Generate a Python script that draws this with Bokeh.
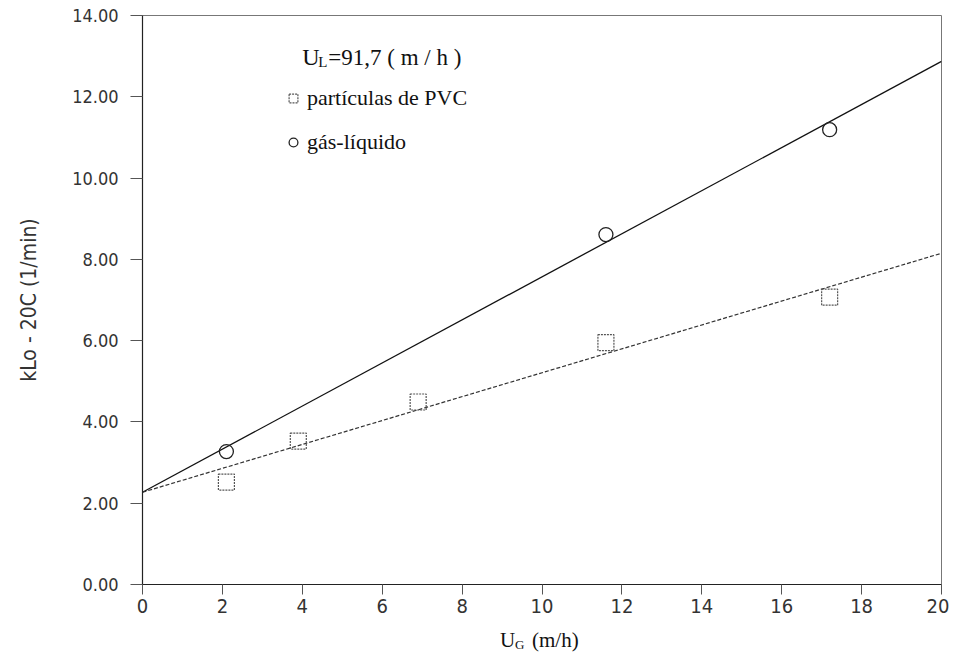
from bokeh.plotting import figure
from bokeh.layouts import column
from bokeh.models import Range1d, Label, Legend, LegendItem, FixedTicker, PrintfTickFormatter
from bokeh.embed import file_html
from bokeh.resources import INLINE

# data
ug_pvc = [2.1, 3.9, 6.9, 11.6, 17.2]
kla_pvc = [2.52, 3.53, 4.49, 5.95, 7.07]
ug_gl = [2.1, 11.6, 17.2]
kla_gl = [3.27, 8.61, 11.19]
fit_x = [0, 20]
fit_pvc = [2.27, 8.15]
fit_gl = [2.27, 12.87]
x_ticks = [0, 2, 4, 6, 8, 10, 12, 14, 16, 18, 20]
y_ticks = [0, 2, 4, 6, 8, 10, 12, 14]

NARROW = "'DejaVu Sans Condensed', 'Liberation Sans Narrow', 'Liberation Sans', sans-serif"
SERIF = "'Liberation Serif', 'Times New Roman', serif"

xr = Range1d(0, 20)
p = figure(width=949, height=624, output_backend="svg", toolbar_location=None,
           x_range=xr, y_range=Range1d(0, 14),
           min_border_left=142, min_border_right=8, min_border_top=15, min_border_bottom=40)
p.xgrid.visible = False
p.ygrid.visible = False
p.outline_line_color = "#777777"
p.outline_line_width = 1
p.background_fill_color = "white"
p.border_fill_color = "white"

p.xaxis.ticker = FixedTicker(ticks=x_ticks)
p.yaxis.ticker = FixedTicker(ticks=y_ticks)
p.yaxis.formatter = PrintfTickFormatter(format="%.2f")
for ax in (p.xaxis[0], p.yaxis[0]):
    ax.axis_line_color = "#222222"
    ax.axis_line_width = 1.2
    ax.major_tick_line_color = "#555555"
    ax.minor_tick_line_color = None
    ax.major_tick_in = 0
    ax.major_label_text_font = NARROW
    ax.major_label_text_color = "#333333"
p.xaxis.major_tick_out = 10
p.yaxis.major_tick_out = 12
p.xaxis.major_label_text_font_size = "20px"
p.yaxis.major_label_text_font_size = "18px"
p.xaxis.major_label_standoff = 4
p.yaxis.major_label_standoff = 12
p.yaxis.axis_label = "kLo - 20C (1/min)"
p.yaxis.axis_label_text_font = NARROW
p.yaxis.axis_label_text_font_size = "21px"
p.yaxis.axis_label_text_font_style = "normal"
p.yaxis.axis_label_text_color = "#333333"
p.yaxis.axis_label_standoff = 28

# fitted lines
p.line(fit_x, fit_gl, line_color="#111111", line_width=1.3)
p.line(fit_x, fit_pvc, line_color="#333333", line_width=1.2, line_dash="4 2")

# data markers
r_pvc = p.scatter(ug_pvc, kla_pvc, marker="square", size=16, fill_color=None,
                  line_color="#555555", line_width=1.2, line_dash="2 1")
r_gl = p.scatter(ug_gl, kla_gl, marker="circle", size=14, fill_color=None,
                 line_color="#222222", line_width=1.3)

legend = Legend(items=[LegendItem(label="partículas de PVC", renderers=[r_pvc]),
                       LegendItem(label="gás-líquido", renderers=[r_gl])],
                location=(140, 429), padding=0, margin=0, spacing=18,
                glyph_height=22, glyph_width=22, label_height=22, label_standoff=3,
                label_text_font=SERIF, label_text_font_size="22px", label_text_color="#111111",
                border_line_color=None, background_fill_alpha=0)
p.add_layout(legend, "center")

# heading of the legend block, with subscript
tf = dict(text_font=SERIF, text_color="#111111", text_baseline="alphabetic")
p.add_layout(Label(x=4.0, y=12.97, text="U", text_font_size="24px", **tf))
p.add_layout(Label(x=4.0, y=12.97, x_offset=16, y_offset=-5, text="L", text_font_size="15px", **tf))
p.add_layout(Label(x=4.0, y=12.97, x_offset=26, text="=91,7 ( m / h )", text_font_size="23px", **tf))

# x-axis title (separate strip below the plot), with subscript
p2 = figure(width=949, height=38, output_backend="svg", toolbar_location=None,
            x_range=xr, y_range=Range1d(0, 1), x_axis_type=None, y_axis_type=None,
            min_border_left=142, min_border_right=8, min_border_top=0, min_border_bottom=0)
p2.xgrid.visible = False
p2.ygrid.visible = False
p2.outline_line_color = None
tm = dict(text_font=SERIF, text_color="#111111", text_baseline="middle")
p2.add_layout(Label(x=10, y=0.6, x_offset=-42, text="U", text_font_size="21px", **tm))
p2.add_layout(Label(x=10, y=0.6, x_offset=-27, y_offset=-5, text="G", text_font_size="13px", **tm))
p2.add_layout(Label(x=10, y=0.6, x_offset=-10, text="(m/h)", text_font_size="21px", **tm))

layout = column(p, p2, spacing=0)
open("out.html", "w").write(file_html(layout, INLINE))
